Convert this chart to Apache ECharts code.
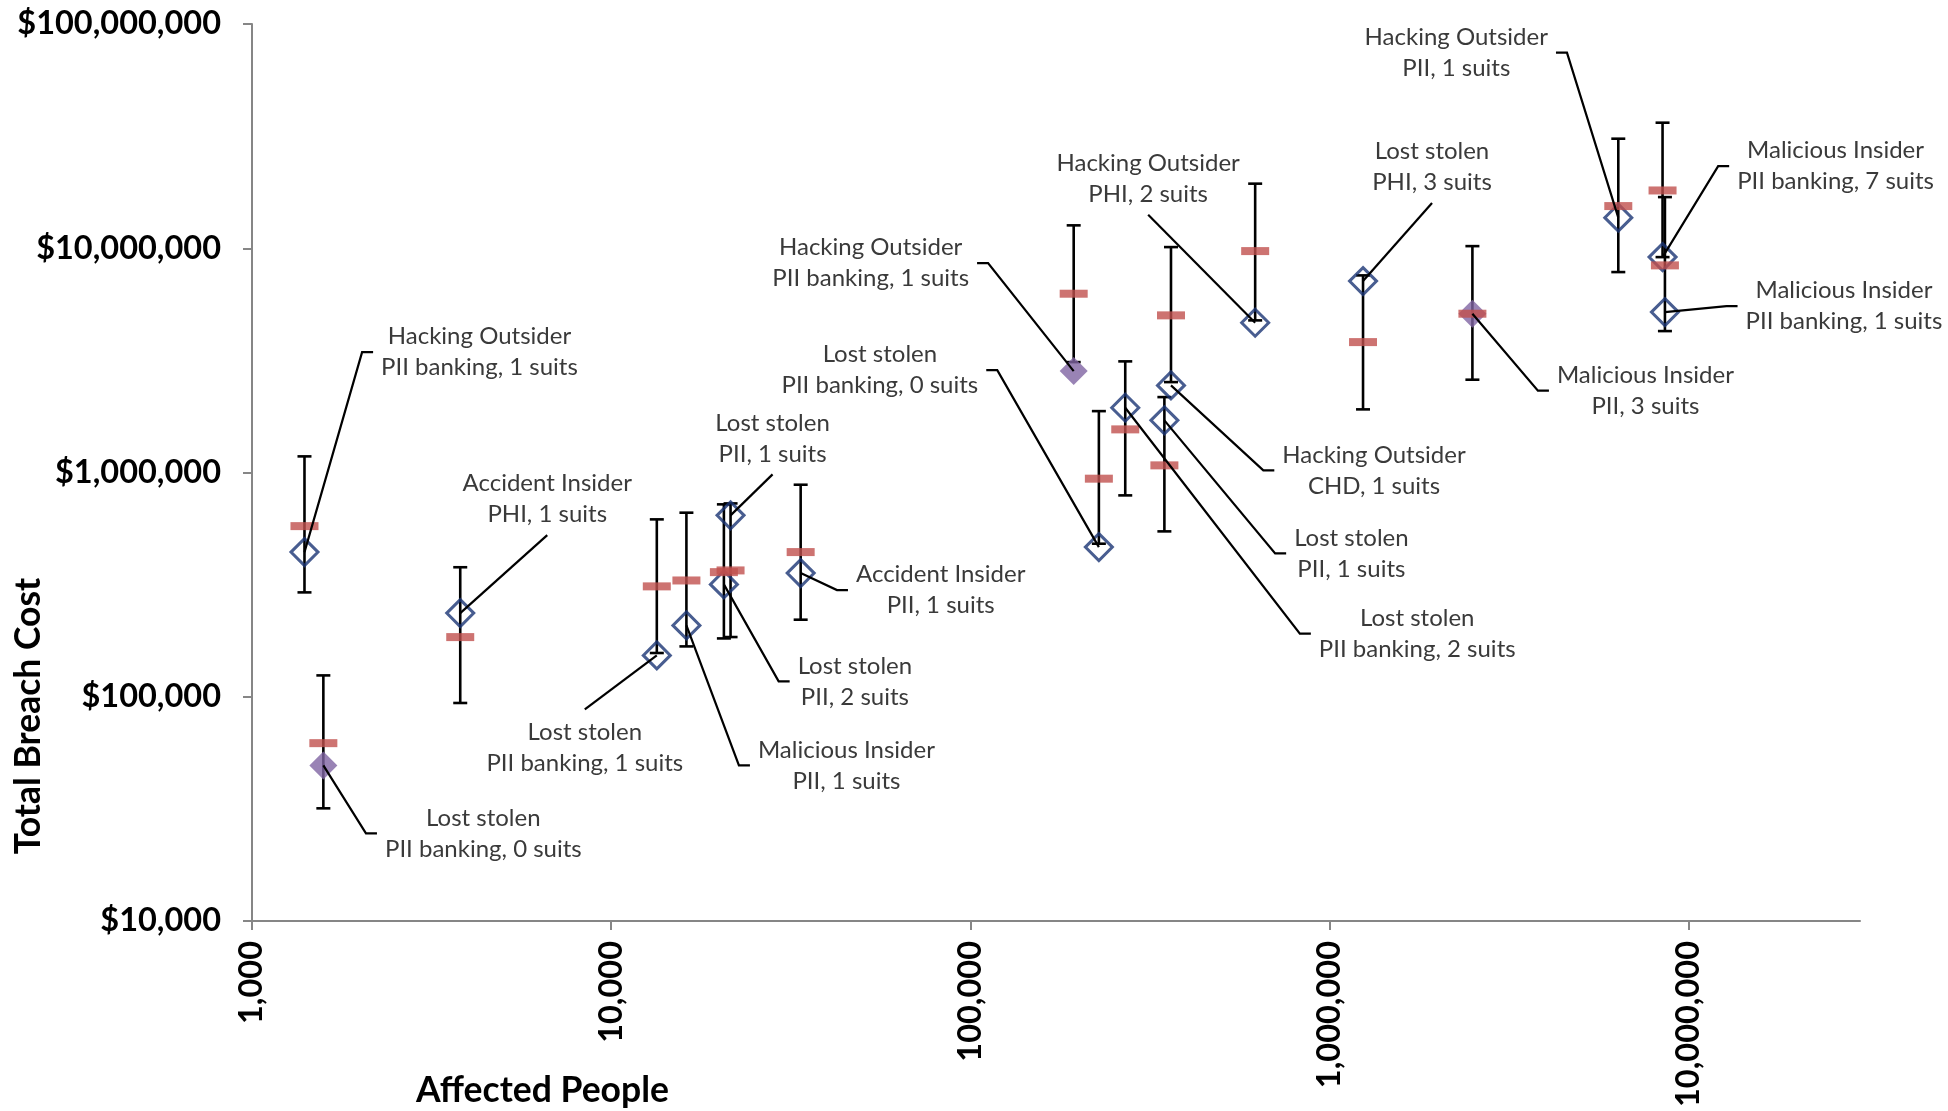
<!DOCTYPE html>
<html>
<head>
<meta charset="utf-8">
<script src="https://cdn.jsdelivr.net/npm/echarts@6/dist/echarts.min.js"></script>
<style>
  html, body { margin: 0; padding: 0; background: #fff; }
  #chart { width: 1948px; height: 1111px; }
</style>
</head>
<body>
<div id="chart"></div>
<script>
// ---------- data ----------
const affectedPeople = [1400, 1580, 3800, 13400, 16200, 21500, 20600, 33700, 194000, 228000, 270000, 347000, 362000, 621000, 1240000, 2500000, 6370000, 8460000, 8590000];
const breachCost     = [441600, 49400, 236000, 152900, 208000, 644000, 317000, 355900, 2833000, 464800, 1945000, 1708000, 2446000, 4656000, 7137000, 5106000, 13690000, 9131000, 5192000];
const meanCost       = [576600, 62100, 184500, 310600, 330000, 365900, 359500, 441700, 6270000, 938600, 1557000, 1076000, 5020000, 9712000, 3815000, 5106000, 15420000, 18100000, 8387000];
const lowCost        = [292000, 31800, 93800, 156700, 167700, 184600, 182000, 220600, 3107000, 481400, 790600, 546300, 2530000, 4768000, 1912000, 2593000, 7830000, 9130000, 4272000];
const highCost       = [1180000, 124500, 378000, 618000, 662000, 728000, 721000, 882000, 12650000, 1878000, 3130000, 2169000, 10120000, 19410000, 7568000, 10220000, 30800000, 36300000, 16910000];
const markerGroup    = ['A','B','A','A','A','A','A','A','B','A','A','A','A','A','A','B','A','A','A'];
const breachType     = ['Hacking Outsider','Lost stolen','Accident Insider','Lost stolen','Malicious Insider','Lost stolen','Lost stolen','Accident Insider','Hacking Outsider','Lost stolen','Lost stolen','Lost stolen','Hacking Outsider','Hacking Outsider','Lost stolen','Malicious Insider','Hacking Outsider','Malicious Insider','Malicious Insider'];
const dataType       = ['PII banking','PII banking','PHI','PII banking','PII','PII','PII','PII','PII banking','PII banking','PII banking','PII','CHD','PHI','PHI','PII','PII','PII banking','PII banking'];
const suits          = [1, 0, 1, 1, 1, 1, 2, 1, 1, 0, 2, 1, 1, 2, 3, 3, 1, 7, 1];
const xTicks = [1000, 10000, 100000, 1000000, 10000000];
const yTicks = [10000, 100000, 1000000, 10000000, 100000000];

// ---------- layout (pixel offsets of each data label from its point, and leader attach side) ----------
const labelPlacement = [
  [175, -200, 'L'], [160, 68, 'L'], [87, -114, 'B'], [-72, 92, 'T'], [160, 140, 'L'],
  [42, -77, 'B'], [131, 97, 'L'], [140, 17, 'L'], [-203, -108, 'R'], [-219, -177, 'R'],
  [292, 226, 'L'], [187, 133, 'L'], [203, 85, 'L'], [-107, -144, 'B'], [69, -114, 'B'],
  [173, 77, 'L'], [-162, -165, 'R'], [173, -91, 'L'], [179, -6, 'L']
];

const LABEL_FONT = '24px Lato';
const LABEL_LH = 31;
const measureCtx = document.createElement('canvas').getContext('2d');
function textWidth(t) { measureCtx.font = LABEL_FONT; return measureCtx.measureText(t).width; }

const fmtNum = v => Math.round(v).toLocaleString('en-US');

const idx = affectedPeople.map((_, i) => i);
const openData = idx.filter(i => markerGroup[i] === 'A').map(i => [affectedPeople[i], breachCost[i]]);
const solidData = idx.filter(i => markerGroup[i] === 'B').map(i => [affectedPeople[i], breachCost[i]]);
const meanData = idx.map(i => [affectedPeople[i], meanCost[i]]);
const errData = idx.map(i => [affectedPeople[i], lowCost[i], highCost[i]]);
const labelData = idx.map(i => [affectedPeople[i], breachCost[i]]);

const axisColor = '#868686';
const tickFont = { fontFamily: 'Lato', fontWeight: 'bold', fontSize: 32.5, color: '#000' };

const chart = echarts.init(document.getElementById('chart'), null, { renderer: 'canvas' });
chart.setOption({
  animation: false,
  backgroundColor: '#fff',
  grid: { left: 252, top: 24, right: 88, bottom: 190 },
  xAxis: {
    type: 'log', logBase: 10, min: 1000, max: 30000000,
    axisLine: { lineStyle: { color: axisColor, width: 2 } },
    axisTick: { show: true, length: 9, lineStyle: { color: axisColor, width: 2 }, customValues: xTicks },
    axisLabel: Object.assign({ rotate: 90, margin: 20, customValues: xTicks, formatter: v => fmtNum(v) }, tickFont),
    splitLine: { show: false }
  },
  yAxis: {
    type: 'log', logBase: 10, min: 10000, max: 100000000,
    axisLine: { lineStyle: { color: axisColor, width: 2 } },
    axisTick: { show: true, length: 9, lineStyle: { color: axisColor, width: 2 }, customValues: yTicks },
    axisLabel: Object.assign({ margin: 31, customValues: yTicks, formatter: v => '$' + fmtNum(v) }, tickFont),
    splitLine: { show: false }
  },
  graphic: [
    { type: 'text', left: 416, top: 1073, style: { text: 'Affected People', font: 'bold 35.5px Lato', fill: '#000' } },
    { type: 'text', x: 29, y: 716, rotation: Math.PI / 2,
      style: { text: 'Total Breach Cost', font: 'bold 35.5px Lato', fill: '#000', align: 'center', verticalAlign: 'middle' } }
  ],
  series: [
    {
      type: 'custom', name: 'range', z: 2, silent: true,
      data: errData,
      renderItem: function (params, api) {
        const x = api.value(0);
        const lo = api.coord([x, api.value(1)]);
        const hi = api.coord([x, api.value(2)]);
        const cw = 7;
        const st = { stroke: '#000', lineWidth: 2.6 };
        return { type: 'group', children: [
          { type: 'line', shape: { x1: lo[0], y1: lo[1], x2: hi[0], y2: hi[1] }, style: st },
          { type: 'line', shape: { x1: lo[0] - cw, y1: lo[1], x2: lo[0] + cw, y2: lo[1] }, style: st },
          { type: 'line', shape: { x1: hi[0] - cw, y1: hi[1], x2: hi[0] + cw, y2: hi[1] }, style: st }
        ] };
      }
    },
    {
      type: 'scatter', name: 'cost', z: 3, symbol: 'diamond', symbolSize: [27, 27],
      itemStyle: { color: 'rgba(0,0,0,0)', borderColor: '#1A3474', borderWidth: 3 },
      data: openData
    },
    {
      type: 'scatter', name: 'cost2', z: 3, symbol: 'diamond', symbolSize: [28, 28],
      itemStyle: { color: '#8064A2', borderWidth: 0 },
      data: solidData
    },
    {
      type: 'scatter', name: 'mean', z: 4, symbol: 'rect', symbolSize: [28, 8],
      itemStyle: { color: '#C0504D' },
      data: meanData
    },
    {
      type: 'custom', name: 'labels', z: 5, silent: true,
      data: labelData,
      renderItem: function (params, api) {
        const i = params.dataIndex;
        const p = api.coord([api.value(0), api.value(1)]);
        const lay = labelPlacement[i];
        const l1 = breachType[i];
        const l2 = dataType[i] + ', ' + suits[i] + ' suits';
        const w = Math.max(textWidth(l1), textWidth(l2));
        const h = LABEL_LH * 2;
        const cx = p[0] + lay[0], cy = p[1] + lay[1];
        let pts;
        if (lay[2] === 'L') {
          const ex = cx - w / 2 - 8;
          pts = [p, [ex - 11, cy], [ex, cy]];
        } else if (lay[2] === 'R') {
          const ex = cx + w / 2 + 8;
          pts = [p, [ex + 11, cy], [ex, cy]];
        } else if (lay[2] === 'B') {
          pts = [p, [cx, cy + h / 2 + 5]];
        } else {
          pts = [p, [cx, cy - h / 2 - 7]];
        }
        return { type: 'group', children: [
          { type: 'polyline', shape: { points: pts }, style: { stroke: '#000', lineWidth: 2.2, fill: null } },
          { type: 'text', style: { text: l1 + '\n' + l2, x: cx, y: cy, align: 'center', verticalAlign: 'middle',
              font: LABEL_FONT, lineHeight: LABEL_LH, fill: '#3A3A3A' } }
        ] };
      }
    }
  ]
});
</script>
</body>
</html>
